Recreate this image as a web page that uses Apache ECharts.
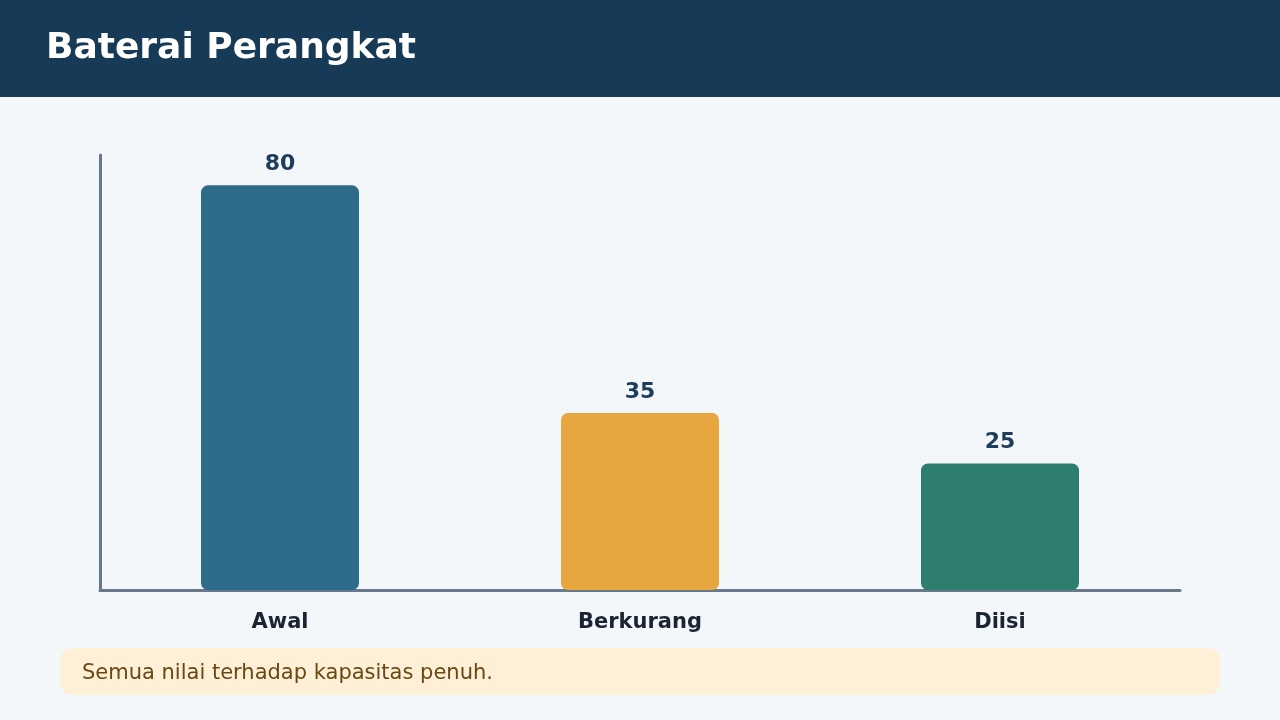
<!DOCTYPE html>
<html>
<head>
<meta charset="utf-8">
<script src="https://cdn.jsdelivr.net/npm/echarts@6/dist/echarts.min.js"></script>
<style>
  html, body { margin: 0; padding: 0; background: #f4f7fa; }
  #main { width: 1280px; height: 720px; }
</style>
</head>
<body>
<div id="main"></div>
<script>
// chart data
const categories = ['Awal', 'Berkurang', 'Diisi'];
const values = [80, 35, 25];
const barColors = ['#2e6a8a', '#e7a640', '#2d7e6f'];

const chart = echarts.init(document.getElementById('main'));
const font = 'DejaVu Sans';

chart.setOption({
  backgroundColor: '#f4f7fa',
  animation: false,
  graphic: [
    { type: 'rect', left: 0, top: 0, shape: { width: 1280, height: 97 }, style: { fill: '#173a57' } },
    {
      type: 'text', left: 46, top: 31,
      style: { text: 'Baterai Perangkat', fill: '#ffffff', fontFamily: font, fontWeight: 'bold', fontSize: 36 }
    },
    {
      type: 'rect', left: 60, top: 648,
      shape: { width: 1160, height: 47, r: 12 },
      style: { fill: '#fef0d6' }
    },
    {
      type: 'text', left: 82, top: 663,
      style: { text: 'Semua nilai terhadap kapasitas penuh.', fill: '#6b4813', fontFamily: font, fontSize: 21 }
    }
  ],
  grid: { left: 100, right: 100, top: 155, bottom: 130 },
  xAxis: {
    type: 'category',
    data: categories,
    axisLine: { lineStyle: { color: '#66788a', width: 3 } },
    axisTick: { show: false },
    axisLabel: { color: '#1b2532', fontFamily: font, fontWeight: 'bold', fontSize: 21, margin: 22 }
  },
  yAxis: {
    type: 'value',
    min: 0,
    max: 86,
    axisLine: { show: true, lineStyle: { color: '#66788a', width: 3 } },
    axisTick: { show: false },
    axisLabel: { show: false },
    splitLine: { show: false }
  },
  series: [{
    type: 'bar',
    barWidth: 158,
    data: values.map((v, i) => ({ value: v, itemStyle: { color: barColors[i] } })),
    itemStyle: { borderRadius: 7 },
    label: {
      show: true,
      position: 'top',
      distance: 10,
      color: '#1f3d5a',
      fontFamily: font,
      fontWeight: 'bold',
      fontSize: 22
    }
  }]
});
</script>
</body>
</html>
